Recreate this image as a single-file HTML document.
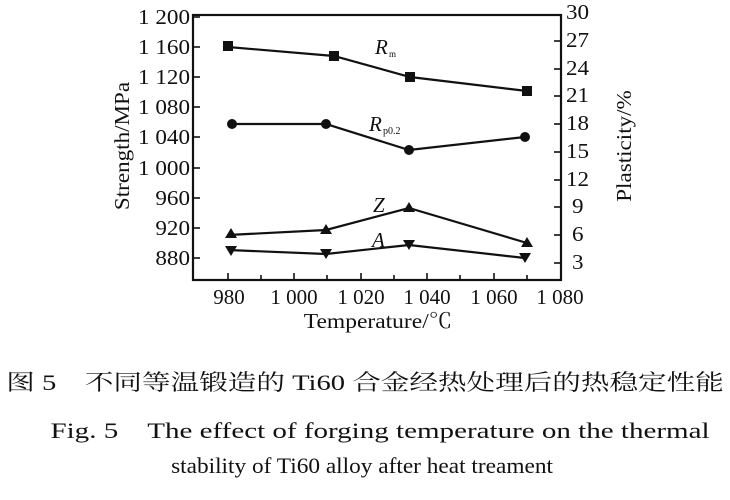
<!DOCTYPE html>
<html><head><meta charset="utf-8"><style>
body{margin:0;background:#fff;width:730px;height:495px;overflow:hidden}
svg text{font-family:"Liberation Serif","Noto Serif CJK SC",serif;fill:#111}
</style></head><body>
<svg width="730" height="495" viewBox="0 0 730 495">
<g stroke="#111" stroke-width="2.2" fill="none">
<rect x="193" y="15" width="368" height="265"/>
</g>
<g stroke="#111" stroke-width="1.6">
<line x1="228" y1="280" x2="228" y2="273"/><line x1="261" y1="280" x2="261" y2="275"/>
<line x1="294" y1="280" x2="294" y2="273"/><line x1="327" y1="280" x2="327" y2="275"/>
<line x1="361" y1="280" x2="361" y2="273"/><line x1="394" y1="280" x2="394" y2="275"/>
<line x1="427" y1="280" x2="427" y2="273"/><line x1="460" y1="280" x2="460" y2="275"/>
<line x1="494" y1="280" x2="494" y2="273"/><line x1="527" y1="280" x2="527" y2="275"/>
<line x1="193" y1="17" x2="200" y2="17"/><line x1="193" y1="47" x2="200" y2="47"/>
<line x1="193" y1="77" x2="200" y2="77"/><line x1="193" y1="107" x2="200" y2="107"/>
<line x1="193" y1="137" x2="200" y2="137"/><line x1="193" y1="168" x2="200" y2="168"/>
<line x1="193" y1="198" x2="200" y2="198"/><line x1="193" y1="228" x2="200" y2="228"/>
<line x1="193" y1="258" x2="200" y2="258"/>
<line x1="561" y1="41" x2="554" y2="41"/><line x1="561" y1="69" x2="554" y2="69"/>
<line x1="561" y1="96" x2="554" y2="96"/><line x1="561" y1="124" x2="554" y2="124"/>
<line x1="561" y1="152" x2="554" y2="152"/><line x1="561" y1="180" x2="554" y2="180"/>
<line x1="561" y1="207" x2="554" y2="207"/><line x1="561" y1="235" x2="554" y2="235"/>
<line x1="561" y1="263" x2="554" y2="263"/>
</g>
<g stroke="#111" stroke-width="2.2" fill="none">
<polyline points="228,47 334,56 410,77 527,91"/>
<polyline points="228,124 326,124 409,150 525,137"/>
<polyline points="228,235 326,230 409,208 527,243"/>
<polyline points="228,250 326,254 409,245 525,258"/>
</g>
<g fill="#111">
<rect x="223" y="41" width="10" height="10"/><rect x="329" y="51" width="10" height="10"/>
<rect x="405" y="72" width="10" height="10"/><rect x="522" y="86" width="10" height="10"/>
<circle cx="232" cy="124" r="5"/><circle cx="326" cy="124" r="5"/><circle cx="409" cy="150" r="5"/><circle cx="525" cy="137" r="5"/>
<polygon points="231,228 237,238 225,238"/><polygon points="326,224 332,234 320,234"/><polygon points="409,202 415,212 403,212"/><polygon points="527,237 533,247 521,247"/>
<polygon points="225,246 237,246 231,256"/><polygon points="320,249 332,249 326,259"/><polygon points="403,240 415,240 409,250"/><polygon points="519,253 531,253 525,263"/>
</g>
<g font-size="21" text-anchor="end">
<text transform="translate(190,24) scale(1.1,1)">1 200</text>
<text transform="translate(190,54) scale(1.1,1)">1 160</text>
<text transform="translate(190,84) scale(1.1,1)">1 120</text>
<text transform="translate(190,114) scale(1.1,1)">1 080</text>
<text transform="translate(190,144) scale(1.1,1)">1 040</text>
<text transform="translate(190,175) scale(1.1,1)">1 000</text>
<text transform="translate(190,205) scale(1.1,1)">960</text>
<text transform="translate(190,235) scale(1.1,1)">920</text>
<text transform="translate(190,265) scale(1.1,1)">880</text>
</g>
<g font-size="21" text-anchor="start">
<text transform="translate(566,19) scale(1.1,1)">30</text>
<text transform="translate(566,47) scale(1.1,1)">27</text>
<text transform="translate(566,75) scale(1.1,1)">24</text>
<text transform="translate(566,102) scale(1.1,1)">21</text>
<text transform="translate(566,130) scale(1.1,1)">18</text>
<text transform="translate(566,158) scale(1.1,1)">15</text>
<text transform="translate(566,186) scale(1.1,1)">12</text>
<text transform="translate(572,213) scale(1.1,1)">9</text>
<text transform="translate(572,241) scale(1.1,1)">6</text>
<text transform="translate(572,269) scale(1.1,1)">3</text>
</g>
<g font-size="21" text-anchor="middle">
<text transform="translate(229,304)">980</text>
<text transform="translate(294,304)">1 000</text>
<text transform="translate(361,304)">1 020</text>
<text transform="translate(427,304)">1 040</text>
<text transform="translate(494,304)">1 060</text>
<text transform="translate(560,304)">1 080</text>
<text transform="translate(378,328) scale(1.12,1)">Temperature/℃</text>
</g>
<text font-size="21" text-anchor="middle" transform="translate(129,146) rotate(-90) scale(1.1,1)">Strength/MPa</text>
<text font-size="21" text-anchor="middle" transform="translate(631,146) rotate(-90) scale(1.1,1)">Plasticity/%</text>
<g font-style="italic" font-size="21">
<text x="375" y="54">R</text><text x="389" y="57" font-size="9" font-style="normal">m</text>
<text x="369" y="131">R</text><text x="383" y="134" font-size="10" font-style="normal">p0.2</text>
<text x="373" y="212">Z</text>
<text x="372" y="247">A</text>
</g>
<text text-anchor="middle" font-size="22" transform="translate(365,390) scale(1.3,1)" font-family="'Noto Serif CJK SC',serif">图 5　不同等温锻造的 Ti60 合金经热处理后的热稳定性能</text>
<text text-anchor="middle" font-size="22" transform="translate(380,438) scale(1.32,1)">Fig. 5　The effect of forging temperature on the thermal</text>
<text text-anchor="middle" font-size="22" transform="translate(362,473) scale(1.06,1)">stability of Ti60 alloy after heat treament</text>
</svg>
</body></html>
